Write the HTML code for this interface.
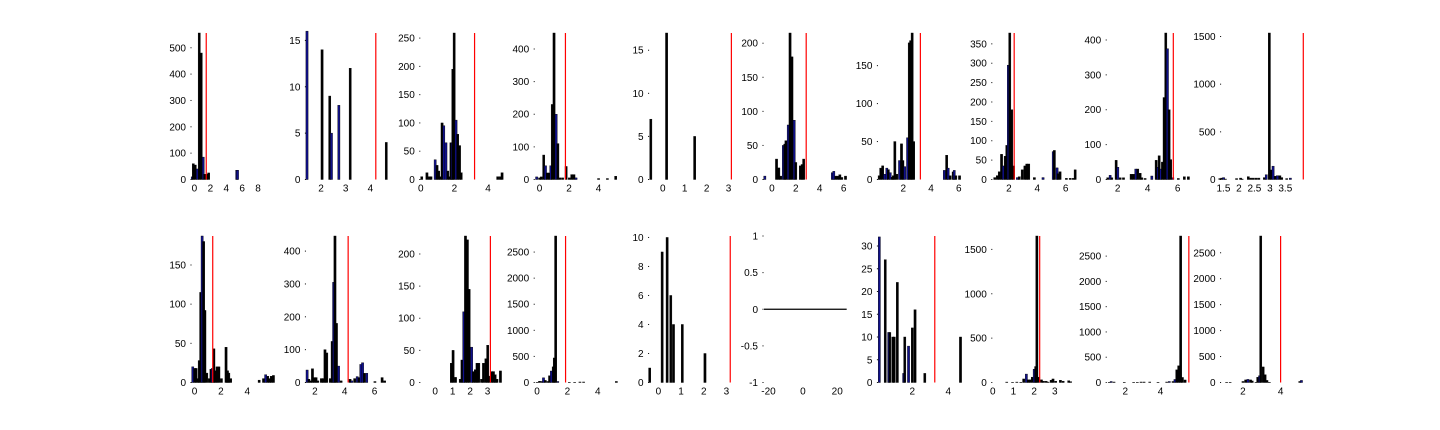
<!DOCTYPE html>
<html><head><meta charset="utf-8">
<style>
html,body{margin:0;padding:0;background:#fff;}
svg{display:block;}
text{font-family:"Liberation Sans",sans-serif;font-size:10px;fill:#000;}
</style></head>
<body>
<svg id="fig" width="1440" height="430" viewBox="0 0 1440 430" xmlns="http://www.w3.org/2000/svg"></svg>
<script>
// ---------- data: bin centers, counts, colour flags (b = blue, k = black) ----------
const binsP1=[-0.29,-0.16,0.09,0.34,0.59,0.84,1.09,1.27,1.52,1.77,5.3,5.4];
const countsP1=[10,60,55,40,556,480,85,20,20,25,35,35];
const colorP1="bkkbkkbkkkbb";
const binsP2=[1.43,2.04,2.35,2.42,2.72,3.18,4.64];
const countsP2=[16,14,9,5,8,12,4];
const colorP2="bkkbbkk";
const binsP3=[0.05,0.36,0.5,0.6,0.85,0.96,1.06,1.17,1.26,1.36,1.49,1.6,1.7,1.79,1.85,1.9,1.98,2.09,2.19,2.3,2.4,4.57,4.72,4.83];
const countsP3=[5,12,5,5,35,25,15,5,100,95,65,15,5,65,65,195,259,105,80,60,12,5,5,12];
const colorP3="kkkkbkkkkbbkkkbkkbkkkkkk";
const binsP4=[-0.2,0.0,0.12,0.28,0.4,0.52,0.64,0.76,0.86,0.98,1.12,1.24,1.38,1.56,1.8,2.02,2.18,2.33,2.47,4.0,4.6,5.16];
const countsP4=[8,5,8,75,42,20,20,42,230,449,200,110,5,5,40,5,15,15,5,3,3,10];
const colorP4="bkkkbkkbkkbkkkkkkkbkkk";
const binsP5=[-0.55,0.17,1.45];
const countsP5=[7,17,5];
const colorP5="kkk";
const binsP6=[-0.6,0.38,0.57,0.73,0.95,1.07,1.17,1.36,1.51,1.67,1.86,1.99,2.37,2.52,2.65,5.05,5.17,5.33,5.52,5.68,5.84,6.15];
const countsP6=[5,30,17,5,50,52,57,80,215,180,87,25,20,22,30,10,12,5,5,7,3,5];
const colorP6="bkkkbkkbkkbkkkkbbkkkkk";
const binsP7=[0.25,0.36,0.5,0.64,0.8,0.91,1.05,1.19,1.27,1.38,1.52,1.72,1.86,1.96,2.09,2.3,2.42,2.52,2.63,2.74,4.95,5.12,5.23,5.37,5.59,5.67,5.78,6.05];
const countsP7=[5,15,18,7,15,13,9,3,5,50,7,25,47,25,17,55,180,183,193,50,12,32,15,5,10,12,5,5];
const colorP7="kkkbbkbkkkkbkkbbkkkkbkbkkbkk";
const binsP8=[0.99,1.17,1.31,1.47,1.6,1.73,1.84,1.95,2.05,2.19,2.32,2.59,2.72,2.93,3.12,3.25,3.39,3.79,4.4,5.12,5.2,5.39,5.47,5.6,6.05,6.32,6.53,6.67];
const countsP8=[5,10,20,65,35,60,88,295,378,180,35,5,7,25,35,40,40,5,5,72,75,30,15,20,3,3,3,25];
const colorP8="kkkkbkkbkkkbkkkkkkbbkbkkkkkk";
const binsP9=[1.33,1.49,1.6,1.89,2.0,2.16,2.38,2.89,3.04,3.2,3.33,3.49,3.6,3.82,4.27,4.56,4.67,4.76,4.87,4.98,5.09,5.2,5.31,5.42,5.53,5.67,6.04,6.44,6.71];
const countsP9=[5,12,5,55,35,5,5,15,15,30,30,18,5,3,10,55,35,68,30,50,235,420,375,200,57,5,3,8,8];
const colorP9="kbkkbkkkkbkkkkbkbkbkkkbkkbkkk";
const binsP10=[1.38,1.44,1.5,1.56,1.92,2.05,2.1,2.3,2.38,2.46,2.55,2.64,2.82,2.88,2.98,3.04,3.1,3.17,3.24,3.32,3.38,3.54,3.66];
const countsP10=[10,15,20,5,10,15,5,30,15,15,15,15,20,50,1537,100,140,35,40,40,20,10,15];
const colorP10="kkbkkkkkkkkkkbkkbkbkkkb";
const binsB1=[-0.14,0,0.11,0.24,0.35,0.46,0.57,0.68,0.78,0.92,1.11,1.24,1.35,1.46,1.57,1.7,1.84,2.03,2.38,2.49,2.59,2.73,4.89,5.22,5.38,5.54,5.68,5.81,5.97];
const countsB1=[20,18,18,5,28,115,187,180,92,12,5,17,18,43,15,20,20,5,45,15,12,5,3,5,10,8,5,8,9];
const colorB1="bkkkkkbkkkkkbkkkkkkkkkkkbkkkk";
const binsB2=[1.47,1.59,1.71,1.83,1.95,2.07,2.19,2.43,2.55,2.67,2.79,3.03,3.15,3.25,3.34,3.44,3.58,3.75,4.35,4.47,4.66,4.83,4.95,5.07,5.19,5.3,5.47,6.02,6.5,6.67];
const countsB2=[38,10,5,42,15,15,5,12,12,100,90,12,125,305,446,180,50,5,10,5,12,18,15,55,60,28,28,3,15,5];
const colorB2="bkkkkkkkkkkkkbkkbkkbkbkbbkbkkk";
const binsB3=[0.92,1.02,1.16,1.43,1.53,1.63,1.73,1.84,1.94,2.08,2.18,2.29,2.39,2.49,2.65,2.76,2.9,3.0,3.1,3.22,3.33,3.43,3.53,3.73];
const countsB3=[30,50,8,5,35,110,228,222,145,55,17,20,30,30,5,30,37,58,10,17,17,12,5,18];
const colorB3="kkkkkbkkkbkkkkkkkkkkkkkk";
const binsB4=[0,0.16,0.33,0.42,0.54,0.71,0.82,0.94,1.06,1.13,1.22,1.36,2.12,2.47,2.82,3.06,5.22];
const countsB4=[5,25,20,90,40,20,130,220,300,470,2808,20,5,5,10,10,20];
const colorB4="kkkbkkkbkkkbkkkkk";
const binsB5=[-0.39,0.16,0.38,0.54,0.66,1.05,2.05];
const countsB5=[1,9,10,6,4,4,2];
const colorB5="kkkkkkk";
const lineB6X=[-22.6,25.5];
const lineB6Y=[0,0];
const binsB7=[0.17,0.5,0.69,0.75,0.92,1.0,1.17,1.52,1.58,1.79,2.0,2.15,2.69,4.67];
const countsB7=[32,27,11,11,10,10,22,2,10,8,12,16,2,10];
const colorB7="bkbkkkkbkbkkkk";
const binsB8=[0.67,0.95,1.16,1.35,1.49,1.62,1.71,1.8,1.91,2.0,2.07,2.13,2.22,2.35,2.45,2.58,2.67,2.82,2.91,3.04,3.27,3.4,3.67,3.76];
const countsB8=[5,3,5,3,40,95,30,30,60,150,180,1651,60,30,15,15,5,25,40,15,25,15,20,10];
const colorB8="kkkkkbkkkbkkkkkkkkkkkkkk";
const binsB9=[1.09,1.2,1.36,1.94,2.47,2.68,2.89,3.06,3.38,3.85,4.34,4.49,4.7,4.81,4.91,5.02,5.13,5.23,5.38];
const countsB9=[5,20,10,5,5,5,10,10,10,5,10,20,20,60,250,330,2898,100,50];
const colorB9="kbkkkkkkkkkbkbkkkkk";
const binsB10=[1.13,1.32,2.0,2.14,2.26,2.4,2.49,2.69,2.78,2.88,2.94,3.07,3.17,3.27,3.4,5.01,5.1];
const countsB10=[5,5,20,50,60,50,30,5,100,130,2823,300,150,40,5,20,40];
const colorB10="kkkkbkkkkbkkkkkkb";
// tick labels & threshold (red) values
const yTicksTop=[[0,100,200,300,400,500],[0,5,10,15],[0,50,100,150,200,250],[0,100,200,300,400],[0,5,10,15],[0,50,100,150,200],[0,50,100,150],[0,50,100,150,200,250,300,350],[0,100,200,300,400],[0,500,1000,1500]];
const xTicksTop=[[0,2,4,6,8],[2,3,4],[0,2,4],[0,2,4],[0,1,2,3],[0,2,4,6],[2,4,6],[2,4,6],[2,4,6],[1.5,2,2.5,3,3.5]];
const yTicksBot=[[0,50,100,150],[0,100,200,300,400],[0,50,100,150,200],[0,500,1000,1500,2000,2500],[0,2,4,6,8,10],[-1,-0.5,0,0.5,1],[0,5,10,15,20,25,30],[0,500,1000,1500],[0,500,1000,1500,2000,2500],[0,500,1000,1500,2000,2500]];
const xTicksBot=[[0,2,4],[2,4,6],[0,1,2,3],[0,2,4],[0,1,2,3],[-20,0,20],[2,4],[0,1,2,3],[2,4],[2,4]];
const thresholds=[1.48,4.22,3.2,1.76,3.13,2.87,3.23,2.37,5.71,4.08,1.38,4.23,3.16,1.88,3.17,null,3.25,2.27,5.6,4.0];
// axis domains
const xDomains=[[-0.31,10.0],[1.41,4.73],[0,4.88],[-0.29,5.27],[-0.6,3.14],[-0.66,6.2],[0.2,6.12],[0.86,6.65],[1.3,6.77],[1.44,4.09],
[-0.19,6.02],[1.43,6.93],[-0.82,3.87],[-0.12,5.28],[-0.39,3.23],[-22.6,25.1],[0.125,4.67],[0,3.97],[0.98,5.62],[0.87,5.22]];
const yDomains=[[0,556],[0,15.8],[0,259],[0,449],[0,17],[0,215],[0,193],[0,378],[0,420],[0,1537],
[0,187],[0,446],[0,228],[0,2808],[0,10.1],[-1,1],[0,32.2],[0,1651],[0,2898],[0,2823]];

const bins=[binsP1,binsP2,binsP3,binsP4,binsP5,binsP6,binsP7,binsP8,binsP9,binsP10,binsB1,binsB2,binsB3,binsB4,binsB5,null,binsB7,binsB8,binsB9,binsB10];
const counts=[countsP1,countsP2,countsP3,countsP4,countsP5,countsP6,countsP7,countsP8,countsP9,countsP10,countsB1,countsB2,countsB3,countsB4,countsB5,null,countsB7,countsB8,countsB9,countsB10];
const colors=[colorP1,colorP2,colorP3,colorP4,colorP5,colorP6,colorP7,colorP8,colorP9,colorP10,colorB1,colorB2,colorB3,colorB4,colorB5,null,colorB7,colorB8,colorB9,colorB10];

const NS="http://www.w3.org/2000/svg";
const svg=document.getElementById('fig');
function mk(tag,attrs,parent){const e=document.createElementNS(NS,tag);for(const k in attrs)e.setAttribute(k,attrs[k]);(parent||svg).appendChild(e);return e;}

for(let i=0;i<20;i++){
  const row=i<10?0:1, col=i%10;
  const L=192+114.4*col, W=82;
  const top=row?236:33, bot=row?382.5:179.5;
  const [x0,x1]=xDomains[i], [y0,y1]=yDomains[i];
  const X=v=>L+(v-x0)/(x1-x0)*W;
  const Y=v=>bot-(v-y0)/(y1-y0)*(bot-top);
  const g=mk('g',{});
  
  
  const yt=row?yTicksBot[col]:yTicksTop[col];
  yt.forEach(t=>{
    const yy=Y(t);
    const tx=mk('text',{x:L-6,y:yy+3.5,'text-anchor':'end'},g);
    tx.textContent=String(t);
    
    
    const d=mk('rect',{x:L-1.5,y:yy-0.5,width:1,height:1,fill:'#000'},g);
    
    
  });
  const xt=row?xTicksBot[col]:xTicksTop[col];
  xt.forEach(t=>{
    const tx=mk('text',{x:X(t),y:bot+12,'text-anchor':'middle'},g);
    tx.textContent=String(t);
    
    
  });
  const b=bins[i];
  if(b){
    const c=counts[i], cl=colors[i];
    for(let k=0;k<b.length;k++){
      const h=Math.max(0,Y(0)-Y(c[k]));
      const r=mk('rect',{x:X(b[k])-1,y:Y(c[k]),width:2.2,height:h,fill:cl[k]==='b'?'#10108a':'#000',stroke:'#000','stroke-width':0.4},g);
      
      
    }
  } else {
    const ln=mk('line',{x1:X(lineB6X[0]),x2:X(lineB6X[1]),y1:Y(lineB6Y[0]),y2:Y(lineB6Y[1]),stroke:'#000','stroke-width':1.2},g);
    
    
  }
  const th=thresholds[i];
  if(th!==null){
    const rl=mk('line',{x1:X(th),x2:X(th),y1:top,y2:bot,stroke:'#ff0000','stroke-width':1.2},g);
    
    
  }
}
</script>
</body></html>
